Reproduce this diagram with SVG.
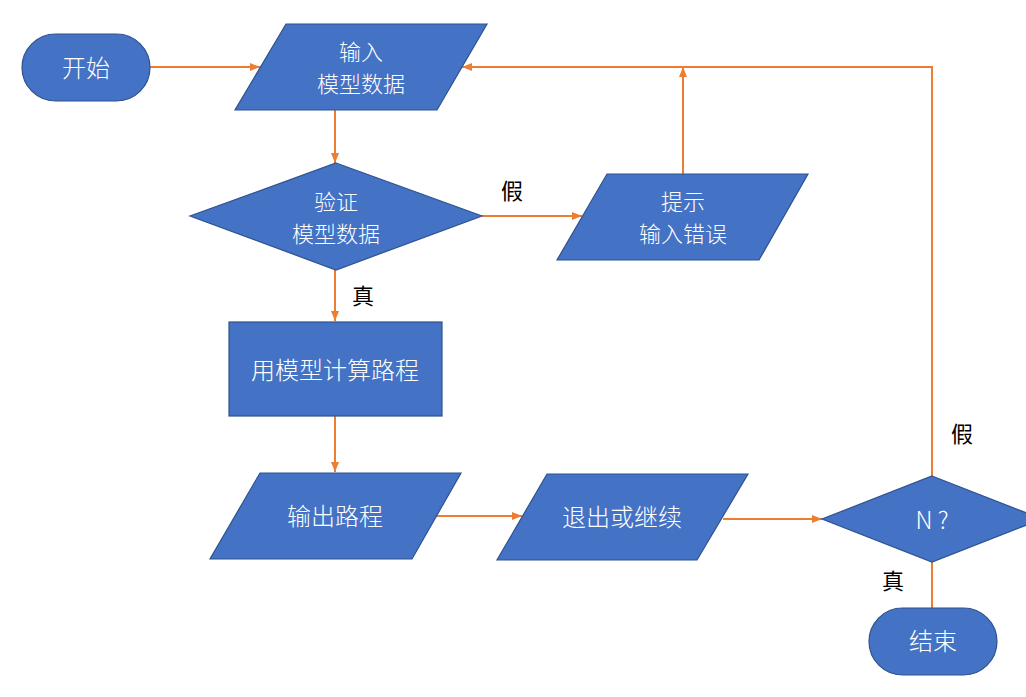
<svg xmlns="http://www.w3.org/2000/svg" width="1026" height="697" viewBox="0 0 1026 697">
<style>
.shape{fill:#4472C4;stroke:#2F528F;stroke-width:1.2}
.t{font-family:"Noto Sans CJK SC","Microsoft YaHei","Noto Sans",sans-serif;font-size:24px;font-weight:300;fill:#FFFFFF;text-anchor:middle;dominant-baseline:central}
.t2{font-size:22px}
.lbl{font-family:"Noto Sans CJK SC","Noto Sans",sans-serif;font-size:22px;fill:#000000;text-anchor:middle;dominant-baseline:central}
.c{fill:none;stroke:#ED7D31;stroke-width:2}
</style>
<defs>
<marker id="ah" markerWidth="10" markerHeight="8" refX="10" refY="4" orient="auto" markerUnits="userSpaceOnUse">
<path d="M0,0 L10,4 L0,8 Z" fill="#ED7D31"/>
</marker>
</defs>
<rect width="1026" height="697" fill="#FFFFFF"/>
<g id="connectors">
<line class="c" x1="150" y1="67" x2="260" y2="67" marker-end="url(#ah)"/>
<line class="c" x1="335" y1="110" x2="335" y2="163" marker-end="url(#ah)"/>
<line class="c" x1="482" y1="216" x2="582" y2="216" marker-end="url(#ah)"/>
<line class="c" x1="683" y1="174" x2="683" y2="67" marker-end="url(#ah)"/>
<line class="c" x1="335" y1="270" x2="335" y2="321" marker-end="url(#ah)"/>
<line class="c" x1="335" y1="416" x2="335" y2="472" marker-end="url(#ah)"/>
<line class="c" x1="436" y1="516" x2="522" y2="516" marker-end="url(#ah)"/>
<line class="c" x1="723" y1="519" x2="822" y2="519" marker-end="url(#ah)"/>
<polyline class="c" points="932,476 932,67 462,67" marker-end="url(#ah)"/>
<line class="c" x1="932" y1="562" x2="932" y2="608"/>
<text class="lbl" x="512" y="189">假</text>
<text class="lbl" x="363" y="294">真</text>
<text class="lbl" x="962" y="432">假</text>
<text class="lbl" x="893" y="579">真</text>
</g>
<g id="start">
<rect class="shape" x="22" y="34" width="128" height="67" rx="33.5" ry="33.5"/>
<text class="t" x="86" y="66">开始</text>
</g>
<g id="input">
<polygon class="shape" points="286,24 487,24 437,110 235,110"/>
<text class="t t2" x="361" y="50">输入<tspan x="361" dy="32">模型数据</tspan></text>
</g>
<g id="validate">
<polygon class="shape" points="336,163 482,216 336,270 190,216"/>
<text class="t t2" x="336" y="200">验证<tspan x="336" dy="32">模型数据</tspan></text>
</g>
<g id="error">
<polygon class="shape" points="607,174 808,174 759,260 557,260"/>
<text class="t t2" x="683" y="200">提示<tspan x="683" dy="32">输入错误</tspan></text>
</g>
<g id="compute">
<rect class="shape" x="229" y="322" width="213" height="94"/>
<text class="t" x="335" y="368">用模型计算路程</text>
</g>
<g id="output">
<polygon class="shape" points="260,473 461,473 412,559 210,559"/>
<text class="t" x="335" y="514">输出路程</text>
</g>
<g id="exit">
<polygon class="shape" points="547,474 748,474 697,560 497,560"/>
<text class="t" x="622" y="515">退出或继续</text>
</g>
<g id="check">
<polygon class="shape" points="932,476 1042,519 932,562 822,519"/>
<text class="t" x="932" y="518">N ?</text>
</g>
<g id="end">
<rect class="shape" x="869" y="608" width="128" height="67" rx="33.5" ry="33.5"/>
<text class="t" x="933" y="639">结束</text>
</g>
</svg>
